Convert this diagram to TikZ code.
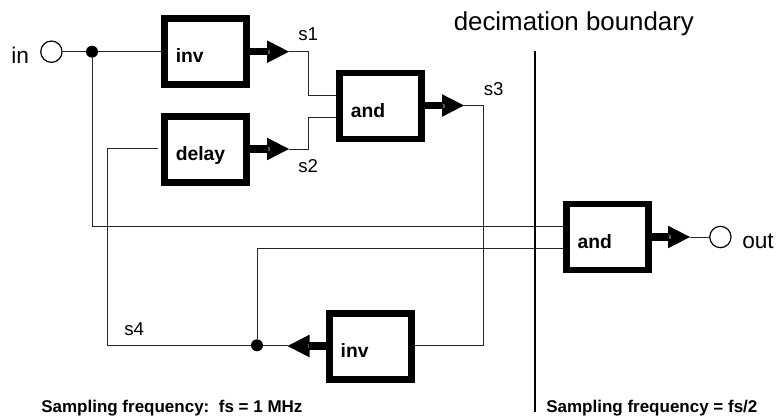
\documentclass[tikz,border=0pt]{standalone}
\usepackage{fontspec}
\setmainfont{Liberation Sans}
\tikzset{x=0.75pt,y=-0.75pt,
 blockbox/.style={draw=black,line width=5pt,fill=white,minimum width=61.5pt,minimum height=49.5pt,inner sep=0pt},
 blocklab/.style={font=\bfseries\fontsize{14.5}{16}\selectfont,inner sep=0pt,anchor=base west,xshift=-22.5pt,yshift=-8.25pt},
 wire/.style={draw=black!85,line width=0.75pt},
 port/.style={circle,draw=black,line width=0.9pt,fill=white,minimum size=16pt,inner sep=0pt},
 junction/.style={circle,fill=black,minimum size=9pt,inner sep=0pt},
 lab/.style={font=\fontsize{14}{16}\selectfont,inner sep=0pt,anchor=base west},
 iolab/.style={font=\fontsize{17}{19}\selectfont,inner sep=0pt,anchor=base west},
 biglab/.style={font=\fontsize{19.4}{22}\selectfont,inner sep=0pt,anchor=base west},
 foot/.style={font=\bfseries\fontsize{12.75}{14}\selectfont,inner sep=0pt,anchor=base west},
 fatline/.style={line width=5.6pt,draw=black},
}
\begin{document}
\begin{tikzpicture}
\useasboundingbox (0,0) rectangle (778,418);
\node[blockbox] (inv1) at (205.5,51.5) {};
\node[blockbox] (delay) at (205.5,149.7) {};
\node[blockbox] (and1) at (380.5,106) {};
\node[blockbox] (and2) at (607.4,237) {};
\node[blockbox] (inv2) at (370.4,346.3) {};
\node[blocklab] (inv1t) at (inv1.center) {inv};
\node[blocklab] (delayt) at (delay.center) {delay};
\node[blocklab] (and1t) at (and1.center) {and};
\node[blocklab] (and2t) at (and2.center) {and};
\node[blocklab] (inv2t) at (inv2.center) {inv};
\node[port] (in) at (51.4,51.7) {};
\node[port] (out) at (720.4,237) {};
\node[junction] (j1) at (92,51.7) {};
\node[junction] (j2) at (257,345.3) {};
\coordinate (t1) at (289,51.7);
\coordinate (t2) at (289,149);
\coordinate (t3) at (464,105.5);
\coordinate (t4) at (690,237);
\coordinate (t5) at (287.5,345.3);
\coordinate (b1) at (535,51);
\coordinate (b2) at (535,412);
\coordinate (dl) at (158,148.5);
\draw[wire] (in) -- (j1) -- (inv1.west |- j1);
\draw[wire] (j1) |- (and2.west |- 0,226);
\draw[wire] (j2) |- (and2.west |- 0,248);
\draw[wire] (t1) -| (308.5,95) -- (and1.west |- 0,95);
\draw[wire] (t2) -| (308.5,117) -- (and1.west |- 0,117);
\draw[wire] (t3) -| (483.5,345.3) -- (inv2.east |- 0,345.3);
\draw[wire] (dl) -| (107,345.3) -- (j2) -- (t5);
\draw[wire] (t4) -- (out);
\draw[line width=0.9pt] (b1) -- (b2);
\foreach \bx/\ty/\tx in {inv1/51.7/289, delay/149/289, and1/105.5/464, and2/237/690}{
 \draw[fatline] (\bx.east |- 0,\ty) -- (\tx-20,\ty);
 \fill (\tx-22,\ty-11.3) -- (\tx,\ty) -- (\tx-22,\ty+11.3) -- cycle;
 \fill[white!35!black] (\tx-21,\ty-2) rectangle (\tx-19.5,\ty+2);
}
\draw[fatline] (inv2.west |- 0,346) -- (307.5,346);
\fill (309.5,334.7) -- (287.5,346) -- (309.5,357.3) -- cycle;
\fill[white!35!black] (309,344) rectangle (307.5,348);
\node[iolab] (lin) at (11,63) {in};
\node[iolab] (lout) at (742,248.3) {out};
\node[lab] (s1) at (298,40) {s1};
\node[lab] (s2) at (298,172) {s2};
\node[lab] (s3) at (483.5,95) {s3};
\node[lab] (s4) at (124,335) {s4};
\node[biglab] (dec) at (453.5,30) {decimation boundary};
\node[foot] (f1) at (41,412.5) {Sampling frequency:\ \ fs = 1 MHz};
\node[foot] (f2) at (546,412.5) {Sampling frequency = fs/2};
\end{tikzpicture}
\end{document}
